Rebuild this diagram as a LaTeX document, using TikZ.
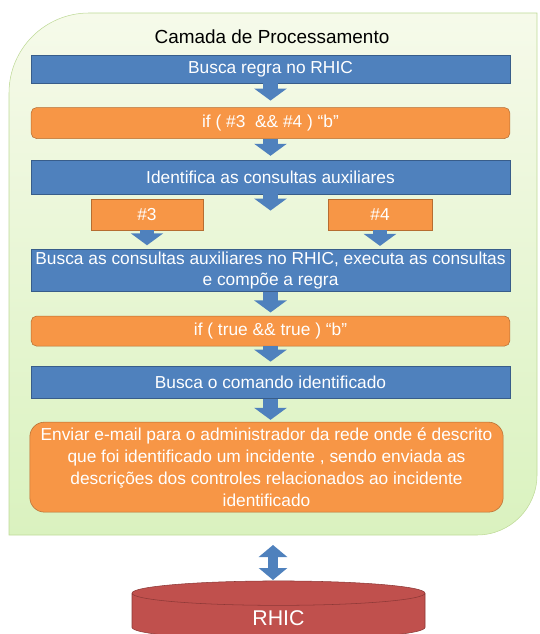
\documentclass[tikz,border=0pt]{standalone}
\usepackage{fontspec}
\setmainfont{Liberation Sans}
\usetikzlibrary{positioning,arrows.meta,shapes.geometric}

\definecolor{stepblue}{HTML}{4F81BD}
\definecolor{stepblueline}{HTML}{385D8A}
\definecolor{steporange}{HTML}{F79646}
\definecolor{steporangeline}{HTML}{B66D31}
\definecolor{dbred}{HTML}{C0504D}
\definecolor{dbredline}{HTML}{8C3836}
\definecolor{paneltop}{HTML}{F6FAEA}
\definecolor{panelbottom}{HTML}{DAF2BF}
\definecolor{panelline}{HTML}{BFDA98}

\newcommand\stepfont{\fontsize{13}{15.5}\selectfont}
\newcommand\headfont{\fontsize{14.2}{17}\selectfont}

\tikzset{
    panel/.style={draw=panelline, top color=paneltop, bottom color=panelbottom},
    bluebox/.style={rectangle, draw=stepblueline, fill=stepblue, text=white, minimum width=359pt, font=\stepfont, align=center, inner sep=1pt},
    orangebox/.style={rectangle, rounded corners=4pt, draw=steporangeline, fill=steporange, text=white, minimum width=359pt, font=\stepfont, align=center, inner sep=1pt},
    auxbox/.style={rectangle, draw=steporangeline, fill=steporange, text=white, minimum height=23.25pt, font=\stepfont},
    db/.style={cylinder, shape border rotate=90, aspect=0.4, draw=dbredline, fill=dbred, text=white, font=\fontsize{16}{19}\selectfont, minimum width=219.75pt, minimum height=44pt},
    flow/.style={draw=stepblue, line width=11pt, -{Triangle[width=24pt,length=9pt]}},
    dflow/.style={draw=stepblue, line width=8pt, {Triangle[width=21pt,length=9pt]}-{Triangle[width=21pt,length=9pt]}},
}

\begin{document}
\begin{tikzpicture}[x=0.75pt,y=-0.75pt]
        \useasboundingbox (0,0) rectangle (539,634);

        % Processing layer
        \path[panel] (9,535) -- (9,93) arc[start angle=180,end angle=270,radius=80]
            -- (537,13) -- (537,475) arc[start angle=0,end angle=90,radius=60] -- cycle;
        \node[font=\headfont] (title) at (272,37) {Camada de Processamento};
        \coordinate (panelbot) at (273,535);

        % Steps
        \node[bluebox, minimum height=21pt] (rule) at (270.5,69) {Busca regra no RHIC};
        \node[orangebox, minimum height=23.25pt, below=18pt of rule] (cond) {if ( \#3\ \ \&\& \#4 ) “b”};
        \node[bluebox, minimum height=25.5pt, below=15.75pt of cond] (aux) {Identifica as consultas auxiliares};
        \node[auxbox, minimum width=84pt] (q3) at (147,214.5) {\#3};
        \node[auxbox, minimum width=78pt] (q4) at (380,214.5) {\#4};
        \node[bluebox, minimum height=31.5pt, below=14.25pt of aux |- q3.south] (fetch)
            {Busca as consultas auxiliares no RHIC, executa as consultas\\e compõe a regra};
        \node[orangebox, minimum height=22.5pt, below=18pt of fetch] (check) {if ( true \&\& true ) “b”};
        \node[bluebox, minimum height=24pt, below=15pt of check] (cmd) {Busca o comando identificado};
        \node[orangebox, rounded corners=11pt, minimum width=355pt, minimum height=67.5pt, below=17.25pt of cmd, xshift=-3pt,
            font=\fontsize{13}{16.5}\selectfont] (mail)
            {Enviar e-mail para o administrador da rede onde é descrito\\
             que foi identificado um incidente , sendo enviada as\\
             descrições dos controles relacionados ao incidente\\
             identificado};

        % Database
        \node[db] (rhic) at (278.5,618) {RHIC};

        % Arrows
        \draw[flow, shorten >=5pt] (rule) -- (cond);
        \draw[flow, shorten >=3pt] (cond) -- (aux);
        \draw[flow, shorten >=29pt] (aux) -- (fetch);
        \draw[flow, shorten >=3pt] (q3) -- (q3 |- fetch.north);
        \draw[flow, shorten >=2.5pt] (q4) -- (q4 |- fetch.north);
        \draw[flow, shorten >=2.5pt] (fetch) -- (check);
        \draw[flow, shorten >=3.5pt] (check) -- (cmd);
        \draw[flow, shorten >=1.5pt] (cmd) -- (cmd |- mail.north);
        \draw[dflow, shorten <=7.5pt, shorten >=0.5pt] (panelbot) -- (panelbot |- rhic.north);
\end{tikzpicture}
\end{document}
